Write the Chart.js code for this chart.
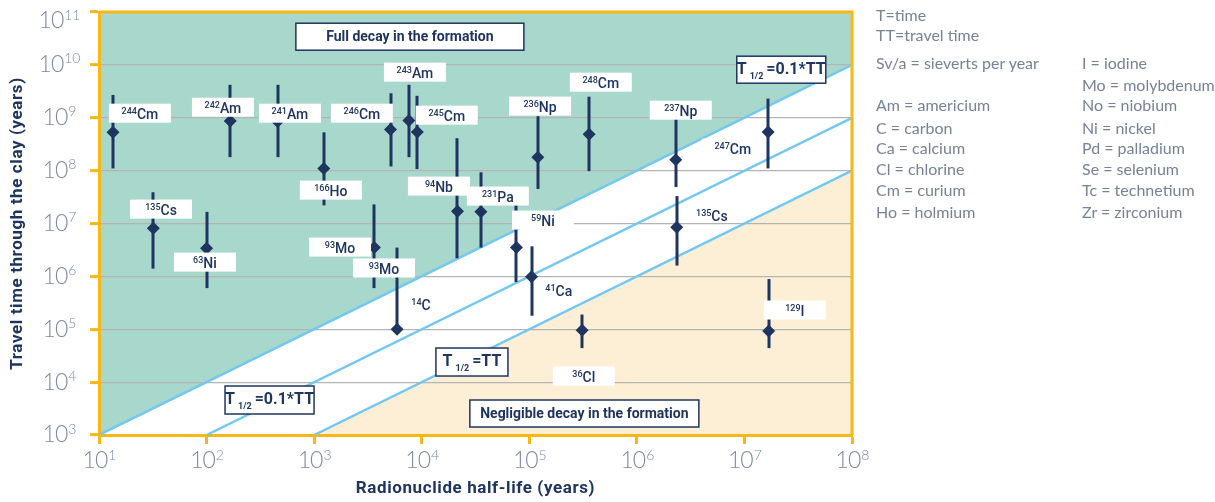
<!DOCTYPE html>
<html>
<head>
<meta charset="utf-8">
<script src="https://cdn.jsdelivr.net/npm/chart.js@4/dist/chart.umd.min.js"></script>
<style>
  body { margin: 0; background: #fff; }
  #wrap { position: relative; width: 1215px; height: 502px; }
  #legend span { position: absolute; font-family: Lato, "Open Sans", sans-serif; font-size: 16px; color: #758395; white-space: nowrap; line-height: 18px; }
</style>
</head>
<body>
<div id="wrap">
  <canvas id="chart" width="1215" height="502"></canvas>
  <div id="legend"></div>
</div>
<script>
// half-life (years) vs travel time (years), with ranges
const halfLife   = [13.5, 32, 100, 166, 457, 1230, 3630, 5130, 5900, 7600, 9100, 21500, 35500, 76000, 1.05e5, 1.2e5, 3.1e5, 3.6e5, 2.3e6, 2.35e6, 1.66e7, 1.68e7];
const travelTime = [5.3e8, 8.1e6, 3.4e6, 8.7e8, 8.5e8, 1.1e8, 3.5e6, 6e8, 1e5, 8.9e8, 5.4e8, 1.7e7, 1.66e7, 3.5e6, 9.8e5, 1.8e8, 9.6e4, 4.9e8, 1.6e8, 8.5e6, 5.4e8, 9.3e4];
const travelLow  = [1.1e8, 1.4e6, 6e5, 1.8e8, 1.8e8, 2.2e7, 6e5, 1.2e8, 1e5, 1.8e8, 1.07e8, 2.2e6, 3.5e6, 7.8e5, 1.8e5, 4.5e7, 4.4e4, 9.8e7, 4.9e7, 1.6e6, 1.1e8, 4.4e4];
const travelHigh = [2.7e9, 3.9e7, 1.66e7, 4.2e9, 4.2e9, 5.3e8, 2.3e7, 2.9e9, 3.5e6, 4.2e9, 2.6e9, 4.1e8, 9.3e7, 2.3e7, 3.7e6, 1.07e9, 1.9e5, 2.5e9, 1.0e9, 3.3e7, 2.3e9, 8.9e5];

// nuclide labels (anchored in data coordinates)
const massNumbers = ['244', '242', '241', '246', '243', '245', '236', '248', '237', '247', '166', '135', '94', '231', '59', '135', '63', '93', '93', '14', '41', '129', '36'];
const symbols     = ['Cm', 'Am', 'Am', 'Cm', 'Am', 'Cm', 'Np', 'Cm', 'Np', 'Cm', 'Ho', 'Cs', 'Nb', 'Pa', 'Ni', 'Cs', 'Ni', 'Mo', 'Mo', 'C', 'Ca', 'I', 'Cl'];
const labelX      = [24, 142, 596, 2780, 8650, 17100, 1.26e5, 4.62e5, 2.56e6, 7.8e6, 1430, 37.7, 14450, 51000, 1.34e5, 4.98e6, 96.6, 1740, 4460, 9840, 1.88e5, 2.94e7, 3.21e5];
const labelY      = [1.22e9, 1.58e9, 1.22e9, 1.22e9, 7.28e9, 1.12e9, 1.66e9, 4.71e9, 1.39e9, 2.66e8, 4.28e7, 1.87e7, 5.09e7, 3.3e7, 1.16e7, 1.44e7, 1.86e6, 3.58e6, 1.44e6, 2.99e5, 5.51e5, 2.31e5, 1.3e4];
const labelBoxed  = [true, true, true, true, true, true, true, true, true, true, true, true, true, true, true, false, true, true, true, false, false, true, true];

// boundary lines
const fullDecayX = [1e1, 1e8];  const fullDecayY = [1e3, 1e10];
const middleX    = [1e2, 1e8];  const middleY    = [1e3, 1e9];
const negligibleX = [1e3, 1e8]; const negligibleY = [1e3, 1e8];

// boxed notes
const noteText = ['Full decay in the formation', 'T|1/2|=0.1*TT', 'T|1/2|=0.1*TT', 'T|1/2|=TT', 'Negligible decay in the formation'];
const noteX    = [7760, 2.2e7, 385, 29300, 3.25e5];
const noteY    = [3.41e10, 8.11e9, 4590, 2.4e4, 2550];

const xTicks = [1e1, 1e2, 1e3, 1e4, 1e5, 1e6, 1e7, 1e8];
const yTicks = [1e3, 1e4, 1e5, 1e6, 1e7, 1e8, 1e9, 1e10, 1e11];

const legendLeft  = ['T=time', 'TT=travel time', 'Sv/a = sieverts per year', '', 'Am = americium', 'C = carbon', 'Ca = calcium', 'Cl = chlorine', 'Cm = curium', 'Ho = holmium'];
const legendRight = ['', '', 'I = iodine', 'Mo = molybdenum', 'No = niobium', 'Ni = nickel', 'Pd = palladium', 'Se = selenium', 'Tc = technetium', 'Zr = zirconium'];

const NAVY = '#1e3560';
const ORANGE = '#f8b714';
const BLUE = '#74c8ef';
const GREEN = '#a8d7cc';
const BEIGE = '#fdefd5';
const GRID = '#b4b4b4';
const TICKTEXT = '#7c8aa3';

// legend on the right
const legendRows = [15, 35, 63, 85, 105, 128, 148, 169, 190, 212];
const legendEl = document.getElementById('legend');
legendRows.forEach((cy, i) => {
  [[legendLeft[i], 876], [legendRight[i], 1082]].forEach(([txt, left]) => {
    if (!txt) return;
    const s = document.createElement('span');
    s.textContent = txt;
    s.style.left = left + 'px';
    s.style.top = (cy - 9) + 'px';
    legendEl.appendChild(s);
  });
});

const toPoints = (xs, ys) => xs.map((x, i) => ({ x: x, y: ys[i] }));

const errorBars = {
  id: 'errorBars',
  beforeDatasetDraw(chart, args) {
    if (args.index !== 0) return;
    const { ctx, scales: { x, y } } = chart;
    ctx.save();
    ctx.strokeStyle = NAVY;
    ctx.lineWidth = 3;
    halfLife.forEach((h, i) => {
      const px = Math.round(x.getPixelForValue(h));
      ctx.beginPath();
      ctx.moveTo(px, y.getPixelForValue(travelHigh[i]));
      ctx.lineTo(px, y.getPixelForValue(travelLow[i]));
      ctx.stroke();
    });
    ctx.restore();
  }
};

function drawPower(ctx, exp, cx, cy) {
  ctx.save();
  ctx.fillStyle = TICKTEXT;
  ctx.textBaseline = 'middle';
  ctx.textAlign = 'left';
  ctx.font = '300 23px Lato';
  ctx.letterSpacing = '-1px';
  const w1 = ctx.measureText('10').width;
  ctx.font = '300 14px Lato';
  ctx.letterSpacing = '0px';
  const w2 = ctx.measureText(String(exp)).width;
  const x0 = cx - (w1 + w2) / 2;
  ctx.font = '300 23px Lato';
  ctx.letterSpacing = '-1px';
  ctx.fillText('10', x0, cy);
  ctx.font = '300 14px Lato';
  ctx.letterSpacing = '0px';
  ctx.fillText(String(exp), x0 + w1 + 1, cy - 6);
  ctx.restore();
}

function drawNote(ctx, txt, cx, cy, w, h) {
  ctx.save();
  ctx.fillStyle = '#fff';
  ctx.fillRect(cx - w / 2, cy - h / 2, w, h);
  ctx.strokeStyle = NAVY;
  ctx.lineWidth = 1.5;
  ctx.strokeRect(cx - w / 2, cy - h / 2, w, h);
  ctx.fillStyle = NAVY;
  ctx.textBaseline = 'middle';
  ctx.textAlign = 'left';
  const parts = txt.split('|');
  if (parts.length === 1) {
    ctx.font = 'bold 14px Roboto';
    ctx.textAlign = 'center';
    ctx.fillText(txt, cx, cy + 1);
  } else {
    const big = 'bold 16px Roboto', small = 'bold 9px Roboto';
    ctx.font = big; const wa = ctx.measureText(parts[0]).width;
    ctx.font = small; const wb = ctx.measureText(parts[1]).width;
    ctx.font = big; const wc = ctx.measureText(parts[2]).width;
    const x0 = cx - (wa + wb + wc + 6) / 2;
    ctx.fillText(parts[0], x0, cy);
    ctx.font = small;
    ctx.fillText(parts[1], x0 + wa + 3, cy + 7);
    ctx.font = big;
    ctx.fillText(parts[2], x0 + wa + wb + 6, cy);
  }
  ctx.restore();
}

const noteWidths = [228, 89, 89, 72, 229];
const noteHeights = [27, 27, 28, 28, 27];

const decorations = {
  id: 'decorations',
  afterDatasetsDraw(chart) {
    const { ctx, scales: { x, y } } = chart;
    // nuclide labels
    massNumbers.forEach((m, i) => {
      const cx = x.getPixelForValue(labelX[i]);
      const cy = y.getPixelForValue(labelY[i]);
      ctx.save();
      if (labelBoxed[i]) {
        ctx.fillStyle = '#fff';
        ctx.fillRect(cx - 31, cy - 9.5, 62, 19);
      }
      ctx.fillStyle = NAVY;
      ctx.textBaseline = 'alphabetic';
      ctx.font = '500 9px Roboto';
      const ws = ctx.measureText(m).width;
      ctx.font = '500 14px Roboto';
      const wm = ctx.measureText(symbols[i]).width;
      const x0 = cx - (ws + wm) / 2;
      ctx.font = '500 9px Roboto';
      ctx.fillText(m, x0, cy + 1);
      ctx.font = '500 14px Roboto';
      ctx.fillText(symbols[i], x0 + ws, cy + 5.5);
      ctx.restore();
    });
    noteText.forEach((t, i) => {
      drawNote(ctx, t, x.getPixelForValue(noteX[i]), y.getPixelForValue(noteY[i]), noteWidths[i], noteHeights[i]);
    });
  },
  afterDraw(chart) {
    const { ctx, chartArea: a, scales: { x, y } } = chart;
    ctx.save();
    // top and right frame
    ctx.strokeStyle = ORANGE;
    ctx.lineWidth = 3;
    ctx.beginPath();
    ctx.moveTo(a.left, a.top);
    ctx.lineTo(a.right, a.top);
    ctx.lineTo(a.right, a.bottom);
    ctx.stroke();
    ctx.restore();
    // tick labels
    xTicks.forEach(v => drawPower(ctx, Math.round(Math.log10(v)), x.getPixelForValue(v), 461));
    yTicks.forEach(v => drawPower(ctx, Math.round(Math.log10(v)), 59, Math.max(y.getPixelForValue(v), a.top + 9)));
    // axis titles
    ctx.save();
    ctx.fillStyle = NAVY;
    ctx.font = 'bold 17px Roboto';
    ctx.letterSpacing = '0.6px';
    ctx.textAlign = 'center';
    ctx.textBaseline = 'middle';
    ctx.fillText('Radionuclide half-life (years)', (a.left + a.right) / 2, 489);
    ctx.translate(18, (a.top + a.bottom) / 2);
    ctx.rotate(-Math.PI / 2);
    ctx.fillText('Travel time through the clay (years)', 0, 0);
    ctx.restore();
  }
};

const boundary = (xs, ys, fill, bg) => ({
  type: 'line',
  data: toPoints(xs, ys),
  borderColor: BLUE,
  borderWidth: 2.5,
  pointRadius: 0,
  fill: fill,
  backgroundColor: bg,
  order: 1
});

new Chart(document.getElementById('chart'), {
  data: {
    datasets: [
      {
        type: 'scatter',
        data: toPoints(halfLife, travelTime),
        pointStyle: 'rectRot',
        pointRadius: 6.5,
        backgroundColor: NAVY,
        borderColor: NAVY,
        borderWidth: 0,
        order: 0
      },
      boundary(fullDecayX, fullDecayY, 'end', GREEN),
      boundary(middleX, middleY, false, 'transparent'),
      boundary(negligibleX, negligibleY, 'start', BEIGE)
    ]
  },
  options: {
    responsive: false,
    animation: false,
    layout: { padding: { top: 12, right: 363, left: 0, bottom: 0 } },
    plugins: {
      legend: { display: false },
      tooltip: { enabled: false },
      filler: { drawTime: 'beforeDraw' }
    },
    scales: {
      x: {
        type: 'logarithmic',
        min: 1e1,
        max: 1e8,
        afterBuildTicks: s => { s.ticks = xTicks.map(v => ({ value: v })); },
        afterFit: s => { s.height = 67; },
        ticks: { display: false },
        grid: { drawOnChartArea: false, tickColor: ORANGE, tickWidth: 3, tickLength: 9 },
        border: { color: ORANGE, width: 3 }
      },
      y: {
        type: 'logarithmic',
        min: 1e3,
        max: 1e11,
        afterBuildTicks: s => { s.ticks = yTicks.map(v => ({ value: v })); },
        afterFit: s => { s.width = 99; },
        ticks: { display: false },
        grid: {
          color: c => (c.tick && (c.tick.value === 1e3 || c.tick.value === 1e11)) ? 'rgba(0,0,0,0)' : GRID,
          lineWidth: 1.2,
          tickColor: ORANGE,
          tickWidth: 3,
          tickLength: 9
        },
        border: { color: ORANGE, width: 3 }
      }
    }
  },
  plugins: [errorBars, decorations]
});
</script>
</body>
</html>
